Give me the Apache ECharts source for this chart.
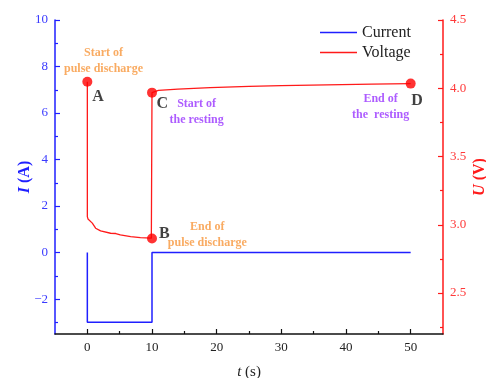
<!DOCTYPE html>
<html>
<head>
<meta charset="utf-8">
<script src="https://cdn.jsdelivr.net/npm/echarts@6/dist/echarts.min.js"></script>
<style>html,body{margin:0;padding:0;background:#fff;}#c{width:486px;height:378px;}</style>
</head>
<body>
<div id="c"></div>
<script>
// ---- data ----
const currentT = [0, 0, 10, 10, 50];
const currentI = [0, -3, -3, 0, 0];

const voltageT = [0, 0, 0.1, 0.25, 0.77, 1.28, 2.05, 3.6, 4.4, 5.1, 6.7, 8.2, 9.9, 10, 10, 10.3, 11, 14, 19, 25, 30, 37, 44, 50];
const voltageU = [4.048, 3.06, 3.043, 3.036, 3.012, 2.975, 2.955, 2.938, 2.936, 2.926, 2.914, 2.906, 2.902, 2.90, 3.968, 3.978, 3.985, 3.993, 4.004, 4.014, 4.020, 4.025, 4.030, 4.034];

const pointNames = ['A', 'B', 'C', 'D'];
const pointT = [0, 10, 10, 50];
const pointU = [4.048, 2.90, 3.968, 4.034];

const letterT = [1.66, 11.9, 11.6, 50.97];
const letterU = [3.936, 2.933, 3.885, 3.907];

const noteText = ['Start of\npulse discharge', 'End of\npulse discharge', 'Start of\nthe resting', 'End of\nthe  resting'];
const noteKind = ['discharge', 'discharge', 'rest', 'rest'];
const noteT = [2.5, 18.55, 16.9, 45.35];
const noteU = [4.2, 2.926, 3.83, 3.863];

const xTicks = [0, 10, 20, 30, 40, 50];
const xMinor = [5, 15, 25, 35, 45];
const iTicks = [-2, 0, 2, 4, 6, 8, 10];
const iMinor = [-3, -1, 1, 3, 5, 7, 9];
const uTicks = [2.5, 3.0, 3.5, 4.0, 4.5];
const uMinor = [2.25, 2.75, 3.25, 3.75, 4.25];

// ---- chart ----
const FONT = '"Liberation Serif", "Times New Roman", serif';
const BLUE = '#1f1fff';
const RED = '#ff1a1a';
const ORANGE = '#f7963b';
const PURPLE = '#9933ff';
const chart = echarts.init(document.getElementById('c'));

const X = [-5, 55], I = [-3.5, 10], U = [2.2, 4.5];

function minorAxis(range, pos, values, color) {
  return {
    type: 'value', position: pos, min: range[0], max: range[1],
    axisLine: { show: false, onZero: false },
    axisTick: { show: true, inside: true, length: 3, customValues: values, lineStyle: { color: color, width: 1.2 } },
    axisLabel: { show: false }, splitLine: { show: false }
  };
}

chart.setOption({
  animation: false,
  backgroundColor: '#fff',
  textStyle: { fontFamily: FONT },
  grid: { left: 55, right: 43, top: 20, bottom: 44, containLabel: false, outerBoundsMode: 'none' },
  legend: {
    data: [
      { name: 'Current', icon: 'rect', itemStyle: { color: BLUE } },
      { name: 'Voltage', icon: 'rect', itemStyle: { color: RED } }
    ],
    orient: 'vertical', left: 315, top: 19,
    itemWidth: 37, itemHeight: 1.5, itemGap: 3,
    textStyle: { fontFamily: FONT, fontSize: 16, color: '#222', lineHeight: 17 }
  },
  xAxis: [
    {
      type: 'value', position: 'bottom', min: X[0], max: X[1],
      name: '{i|t} (s)', nameLocation: 'middle', nameGap: 31, nameMoveOverlap: false,
      nameTextStyle: { fontFamily: FONT, fontSize: 15, color: '#222', rich: { i: { fontStyle: 'italic', fontFamily: FONT, fontSize: 15, color: '#222' } } },
      axisLine: { onZero: false, lineStyle: { color: '#111', width: 1.5 } },
      axisTick: { inside: true, length: 5, customValues: xTicks, lineStyle: { color: '#111', width: 1.2 } },
      axisLabel: { customValues: xTicks, fontFamily: FONT, fontSize: 13, color: '#222', margin: 7 },
      splitLine: { show: false }
    },
    minorAxis(X, 'bottom', xMinor, '#111')
  ],
  yAxis: [
    {
      type: 'value', position: 'left', min: I[0], max: I[1],
      name: '{i|I} (A)', nameLocation: 'middle', nameGap: 22, nameRotate: 90, nameMoveOverlap: false,
      nameTextStyle: { fontFamily: FONT, fontSize: 16, fontWeight: 'bold', color: BLUE, rich: { i: { fontStyle: 'italic', fontWeight: 'bold', fontFamily: FONT, fontSize: 16, color: BLUE } } },
      axisLine: { onZero: false, lineStyle: { color: BLUE, width: 1.5 } },
      axisTick: { inside: true, length: 5, customValues: iTicks, lineStyle: { color: BLUE, width: 1.2 } },
      axisLabel: { customValues: iTicks, fontFamily: FONT, fontSize: 13, color: '#3a3aff', margin: 7,
        formatter: v => (v < 0 ? '\u2212' + Math.abs(v) : String(v)) },
      splitLine: { show: false }
    },
    {
      type: 'value', position: 'right', min: U[0], max: U[1],
      name: '{i|U} (V)', nameLocation: 'middle', nameGap: 29, nameRotate: 90, nameMoveOverlap: false,
      nameTextStyle: { fontFamily: FONT, fontSize: 16, fontWeight: 'bold', color: RED, rich: { i: { fontStyle: 'italic', fontWeight: 'bold', fontFamily: FONT, fontSize: 16, color: RED } } },
      axisLine: { onZero: false, lineStyle: { color: RED, width: 1.5 } },
      axisTick: { inside: true, length: 5, customValues: uTicks, lineStyle: { color: RED, width: 1.2 } },
      axisLabel: { customValues: uTicks, fontFamily: FONT, fontSize: 13, color: '#ff3a3a', margin: 7,
        formatter: v => v.toFixed(1) },
      splitLine: { show: false }
    },
    minorAxis(I, 'left', iMinor, BLUE),
    minorAxis(U, 'right', uMinor, RED)
  ],
  series: [
    {
      name: 'Current', type: 'line', xAxisIndex: 0, yAxisIndex: 0,
      symbol: 'none', lineStyle: { color: BLUE, width: 1.5 }, itemStyle: { color: BLUE },
      data: currentT.map((t, k) => [t, currentI[k]]), z: 3
    },
    {
      name: 'Voltage', type: 'line', xAxisIndex: 0, yAxisIndex: 1,
      symbol: 'none', lineStyle: { color: RED, width: 1.3 }, itemStyle: { color: RED },
      data: voltageT.map((t, k) => [t, voltageU[k]]), z: 3
    },
    {
      name: 'points', type: 'scatter', xAxisIndex: 0, yAxisIndex: 1,
      symbol: 'circle', symbolSize: 10, itemStyle: { color: '#ff0000' },
      data: pointT.map((t, k) => ({ name: pointNames[k], value: [t, pointU[k]] })), z: 5
    },
    {
      name: 'letters', type: 'scatter', xAxisIndex: 0, yAxisIndex: 1,
      symbolSize: 1, itemStyle: { color: 'rgba(0,0,0,0)' }, silent: true,
      label: { show: true, position: 'inside', formatter: '{b}', fontFamily: FONT, fontSize: 16, fontWeight: 'bold', color: '#111' },
      data: pointNames.map((n, k) => ({ name: n, value: [letterT[k], letterU[k]] })), z: 6
    },
    {
      name: 'notes', type: 'scatter', xAxisIndex: 0, yAxisIndex: 1,
      symbolSize: 1, itemStyle: { color: 'rgba(0,0,0,0)' }, silent: true,
      data: noteText.map((s, k) => ({
        name: s, value: [noteT[k], noteU[k]],
        label: { show: true, position: 'inside', formatter: '{b}', align: 'center', verticalAlign: 'middle',
          fontFamily: FONT, fontSize: 12, fontWeight: 'bold', lineHeight: 16,
          color: noteKind[k] === 'discharge' ? ORANGE : PURPLE }
      })), z: 6
    }
  ]
});
</script>
</body>
</html>
